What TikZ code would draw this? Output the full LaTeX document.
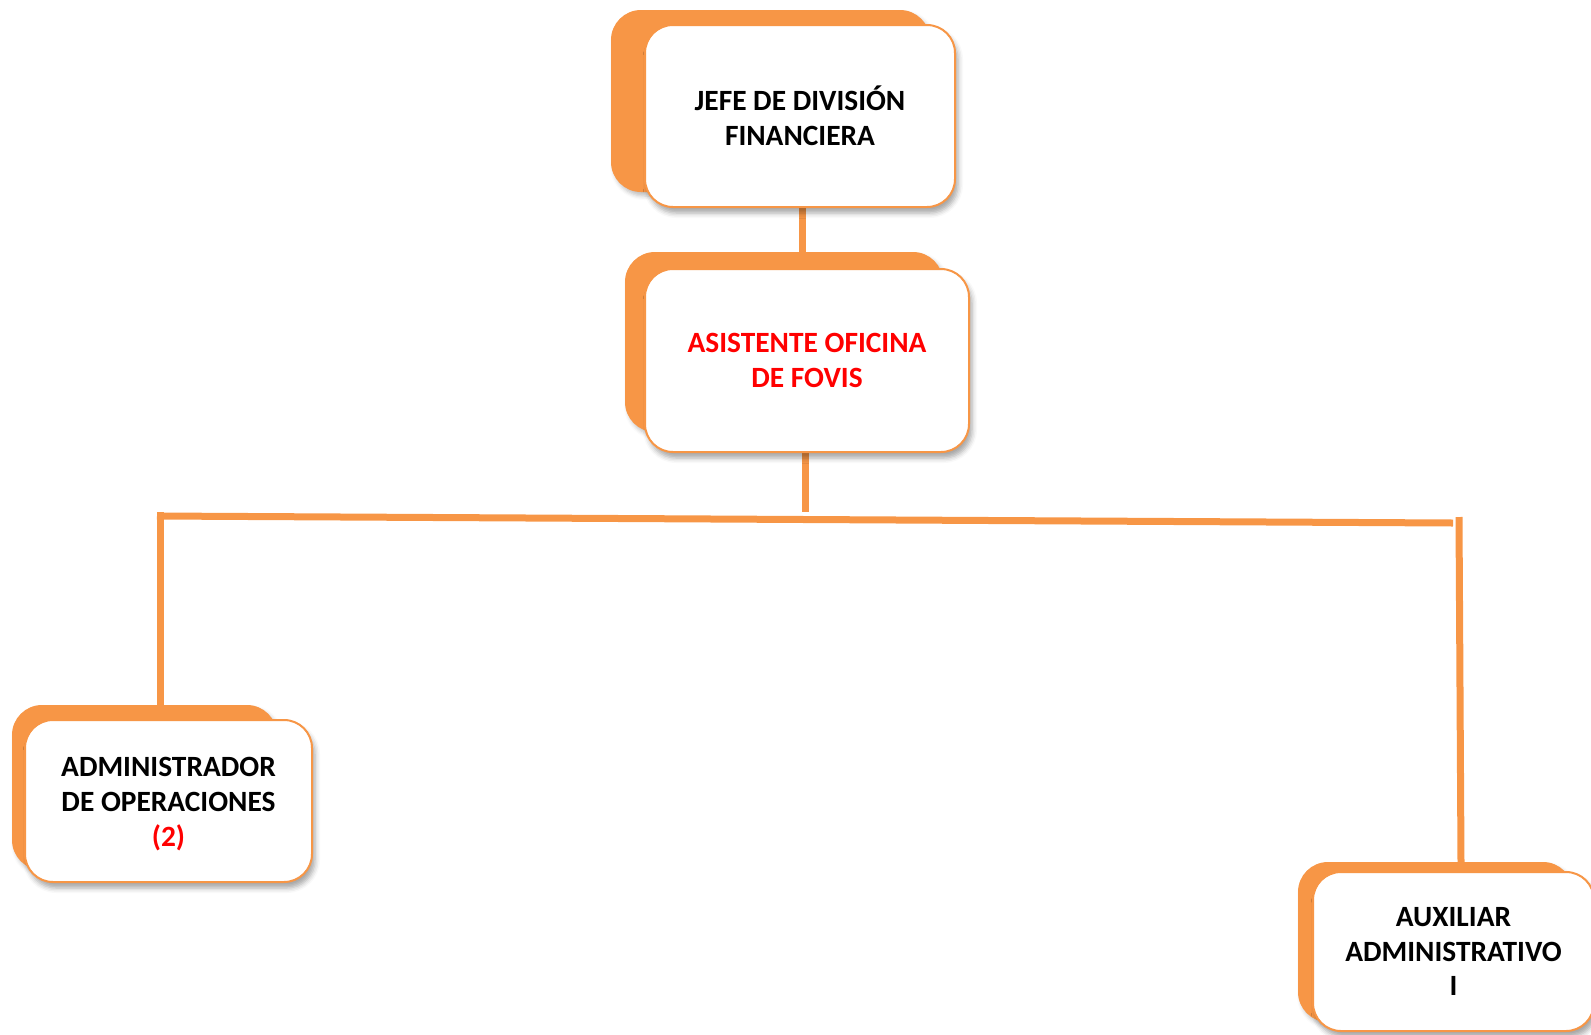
\documentclass[tikz,border=0pt]{standalone}
\usepackage{fontspec}
\setmainfont{Carlito}
\usetikzlibrary{shadows.blur}
\definecolor{orgorange}{HTML}{F79646}
\definecolor{orgred}{HTML}{FF0000}
\tikzset{
  backbox/.style={fill=orgorange, draw=none, rounded corners=15pt, inner sep=0pt,
    blur shadow={shadow xshift=1.5pt, shadow yshift=-2pt, shadow blur radius=2pt, shadow opacity=25}},
  frontbox/.style={fill=white, draw=orgorange, line width=1pt, rounded corners=14pt, inner sep=0pt,
    align=center, font=\fontsize{14.7pt}{17.4pt}\selectfont\bfseries,
    blur shadow={shadow xshift=1.5pt, shadow yshift=-3pt, shadow blur radius=2.5pt, shadow opacity=35}},
  link/.style={draw=orgorange, line width=3.5pt},
}
\begin{document}
\begin{tikzpicture}[x=0.5pt, y=-0.5pt]
\useasboundingbox (0,0) rectangle (1591,1034);
% coordinates for the connector bar
\coordinate (barL) at (157,516);
\coordinate (barR) at (1453,523);
\coordinate (barM) at (805,512);
\coordinate (leftTop) at (160,512);
\coordinate (rightTop) at (1459,517);
% back boxes
\node[backbox, minimum width=159.5pt, minimum height=91pt] (jefeback) at (770.5,101) {};
\node[backbox, minimum width=159pt, minimum height=90pt] (asisback) at (784,342) {};
\node[backbox, minimum width=132.5pt, minimum height=82.5pt] (admback) at (144.5,787.5) {};
\node[backbox, minimum width=137.5pt, minimum height=80pt] (auxback) at (1435.5,942) {};
% connectors (behind the front boxes)
\draw[link] (802,207) -- (802,252);
\draw[link] (barM |- 0,452) -- (barM);
\draw[link] (barL) -- (barR);
\draw[link] (leftTop) -- (leftTop |- admback.north);
\draw[link] (rightTop) -- (1461,862);
% front boxes
\node[frontbox, minimum width=155pt, minimum height=91pt] (jefe) at (800,116)
  {JEFE DE DIVISIÓN\\FINANCIERA};
\node[frontbox, minimum width=162pt, minimum height=91.5pt, text=orgred] (asis) at (807,360.5)
  {ASISTENTE OFICINA\\DE FOVIS};
\node[frontbox, minimum width=143.5pt, minimum height=81pt] (adm) at (168.5,801)
  {\rule{0pt}{13pt}ADMINISTRADOR\\DE OPERACIONES\\\textcolor{orgred}{(2)}};
\node[frontbox, minimum width=140.5pt, minimum height=79.5pt] (aux) at (1453.5,951.5)
  {AUXILIAR\\ADMINISTRATIVO\\I};
\end{tikzpicture}
\end{document}
